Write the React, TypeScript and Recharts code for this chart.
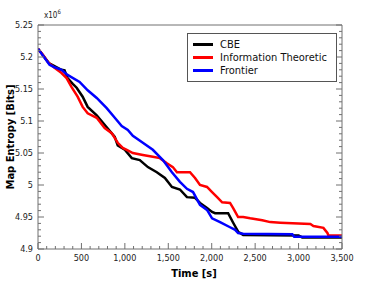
import React from 'react';
import { LineChart, Line, XAxis, YAxis, Legend, Label } from 'recharts';

// time [s] / map entropy [x10^6 bits]
const cbeTime = [0, 130, 270, 306, 340, 400, 445, 514, 572, 676, 791, 884, 918, 999, 1080, 1172, 1265, 1368, 1461, 1542, 1634, 1715, 1808, 1865, 1946, 2004, 2039, 2189, 2247, 2304, 2362, 3000, 3043, 3500];
const cbeEntropy = [5.213, 5.19, 5.18, 5.179, 5.167, 5.158, 5.152, 5.138, 5.122, 5.109, 5.09, 5.075, 5.062, 5.055, 5.042, 5.039, 5.028, 5.02, 5.011, 4.997, 4.993, 4.981, 4.98, 4.972, 4.964, 4.958, 4.956, 4.956, 4.941, 4.927, 4.922, 4.921, 4.918, 4.918];

const infoTime = [0, 58, 115, 190, 271, 329, 387, 456, 514, 572, 676, 768, 849, 918, 976, 1022, 1092, 1207, 1322, 1403, 1484, 1553, 1600, 1750, 1808, 1865, 1946, 2004, 2062, 2120, 2211, 2247, 2304, 2362, 2443, 2582, 2674, 2790, 3136, 3171, 3286, 3332, 3344, 3500];
const infoEntropy = [5.213, 5.203, 5.192, 5.183, 5.175, 5.167, 5.153, 5.138, 5.122, 5.112, 5.105, 5.089, 5.081, 5.066, 5.058, 5.055, 5.05, 5.047, 5.044, 5.042, 5.034, 5.028, 5.02, 5.02, 5.011, 5.0, 4.997, 4.989, 4.981, 4.973, 4.972, 4.964, 4.95, 4.95, 4.948, 4.945, 4.942, 4.941, 4.939, 4.936, 4.933, 4.925, 4.921, 4.921];

const frontierTime = [0, 133, 190, 271, 340, 479, 572, 676, 791, 884, 964, 1034, 1092, 1207, 1322, 1438, 1542, 1634, 1715, 1785, 1865, 1946, 2004, 2096, 2211, 2270, 2304, 2362, 2928, 2950, 3500];
const frontierEntropy = [5.213, 5.188, 5.184, 5.18, 5.172, 5.161, 5.148, 5.136, 5.12, 5.105, 5.092, 5.086, 5.077, 5.066, 5.055, 5.039, 5.02, 5.005, 4.994, 4.989, 4.969, 4.961, 4.948, 4.942, 4.934, 4.93, 4.925, 4.924, 4.923, 4.919, 4.919];

const xTicks = [0, 500, 1000, 1500, 2000, 2500, 3000, 3500];
const yTicks = [4.9, 4.95, 5, 5.05, 5.1, 5.15, 5.2, 5.25];
const xMinor = Array.from({ length: 36 }, (_, i) => i * 100);
const yMinor = Array.from({ length: 36 }, (_, i) => Math.round((4.9 + i * 0.01) * 100) / 100);

const toPoints = (t: number[], v: number[]) => t.map((time, i) => ({ time, entropy: v[i] }));

const series = [
    { name: 'CBE', color: '#000000', data: toPoints(cbeTime, cbeEntropy) },
    { name: 'Information Theoretic', color: '#ff0000', data: toPoints(infoTime, infoEntropy) },
    { name: 'Frontier', color: '#0000ff', data: toPoints(frontierTime, frontierEntropy) },
];

const FRAME = '#707070';
const xDomain = [0, 3500];
const yDomain = [4.9, 5.25];

const isMajorX = (v: number) => v % 500 === 0;
const isMajorY = (v: number) => Math.round(v * 100) % 5 === 0;

// inward tick marks drawn at the axis coordinate, labels only on major ticks
function FrameTick(props: any) {
    const { x, y, payload, side, labels } = props;
    const v = payload.value;
    const major = side === 'top' || side === 'bottom' ? isMajorX(v) : isMajorY(v);
    const len = major ? 6 : 3;
    let line;
    if (side === 'bottom') line = <line x1={x} y1={y} x2={x} y2={y - len} stroke={FRAME} />;
    else if (side === 'top') line = <line x1={x} y1={y} x2={x} y2={y + len} stroke={FRAME} />;
    else if (side === 'left') line = <line x1={x} y1={y} x2={x + len} y2={y} stroke={FRAME} />;
    else line = <line x1={x} y1={y} x2={x - len} y2={y} stroke={FRAME} />;
    return (
        <g>
            {line}
            {labels && major && side === 'bottom' && (
                <text x={x} y={y + 6} dy="0.71em" textAnchor="middle" fontSize={9} fill="#222">{v.toLocaleString('en-US')}</text>
            )}
            {labels && major && side === 'left' && (
                <text x={x - 5} y={y} dy="0.355em" textAnchor="end" fontSize={9} fill="#222">{String(v)}</text>
            )}
        </g>
    );
}

function LegendBox() {
    return (
        <div style={{ border: '1px solid #555', background: '#fff', padding: '4px 0 4px 5px', width: 143 }}>
            {series.map((s) => (
                <div key={s.name} style={{ display: 'flex', alignItems: 'center', height: 13, fontSize: 11, color: '#111' }}>
                    <span style={{ display: 'inline-block', width: 20, height: 2.5, background: s.color, marginRight: 7 }} />
                    {s.name}
                </div>
            ))}
        </div>
    );
}

export default function App() {
    return (
        <div style={{ position: 'absolute', left: 0, top: 0, background: '#fff', fontFamily: '"DejaVu Sans Condensed", "DejaVu Sans", sans-serif' }}>
            <div style={{ position: 'absolute', left: 44, top: 8, fontSize: 8, color: '#222' }}>
                x10<sup style={{ fontSize: 6 }}>6</sup>
            </div>
            <LineChart width={374} height={291} margin={{ top: 24, right: 31, bottom: 12, left: 0 }}>
                <XAxis xAxisId="main" type="number" dataKey="time" domain={xDomain} ticks={xMinor} interval={0} allowDataOverflow
                    height={30} tickLine={false} tickSize={0} tickMargin={0}
                    axisLine={{ stroke: FRAME }} tick={<FrameTick side="bottom" labels />}>
                    <Label value="Time [s]" position="insideBottom" offset={2} dx={4} style={{ fontSize: 11, fontWeight: 'bold', fill: '#000' }} />
                </XAxis>
                <YAxis yAxisId="main" type="number" domain={yDomain} ticks={yMinor} interval={0} allowDataOverflow
                    width={38} tickLine={false} tickSize={0} tickMargin={0}
                    axisLine={{ stroke: FRAME }} tick={<FrameTick side="left" labels />}>
                    <Label value="Map Entropy [Bits]" position="center" angle={-90} dx={-9} style={{ fontSize: 11, fontWeight: 'bold', fill: '#000' }} />
                </YAxis>
                <XAxis xAxisId="top" orientation="top" type="number" domain={xDomain} ticks={xMinor} interval={0} allowDataOverflow
                    height={1} tickLine={false} tickSize={0} tickMargin={0}
                    axisLine={{ stroke: FRAME }} tick={<FrameTick side="top" />} />
                <YAxis yAxisId="right" orientation="right" type="number" domain={yDomain} ticks={yMinor} interval={0} allowDataOverflow
                    width={1} tickLine={false} tickSize={0} tickMargin={0}
                    axisLine={{ stroke: FRAME }} tick={<FrameTick side="right" />} />

                <Legend layout="vertical" align="center" verticalAlign="middle" content={() => <LegendBox />}
                    wrapperStyle={{ position: 'absolute', left: 187, top: 33, width: 150 }} />

                {series.map((s) => (
                    <Line key={s.name} xAxisId="main" yAxisId="main" data={s.data} dataKey="entropy" name={s.name}
                        type="linear" stroke={s.color} strokeWidth={2.5} dot={false} isAnimationActive={false} />
                ))}
            </LineChart>
        </div>
    );
}
